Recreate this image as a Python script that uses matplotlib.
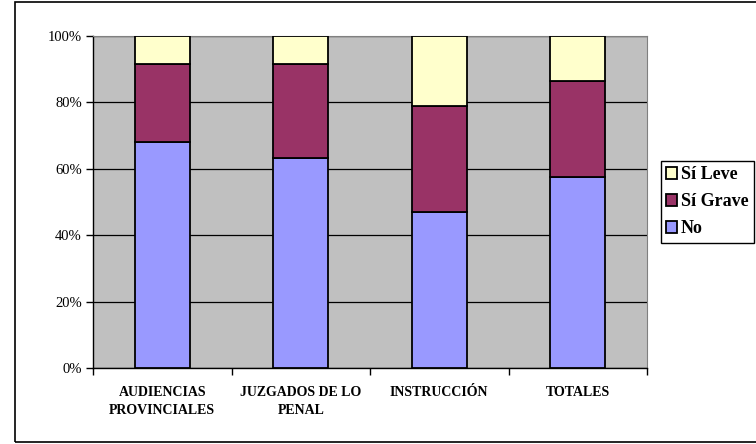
import matplotlib.pyplot as plt
import numpy as np
from matplotlib.patches import Rectangle
from matplotlib.ticker import FuncFormatter

plt.rcParams['font.family'] = ['Liberation Serif', 'DejaVu Serif']

categories = ["AUDIENCIAS\nPROVINCIALES", "JUZGADOS DE LO\nPENAL", "INSTRUCCIÓN", "TOTALES"]
no = [68.2, 63.3, 47.1, 57.6]
si_grave = [23.3, 28.2, 31.9, 28.8]
si_leve = [8.5, 8.5, 21.0, 13.6]

fig = plt.figure(figsize=(7.56, 4.44), dpi=100)
fig.patches.append(Rectangle((15 / 756, 2 / 444), 1.0, 440 / 444, transform=fig.transFigure,
                             fill=False, edgecolor='black', linewidth=1.2))

ax = fig.add_axes([93 / 756, 76 / 444, 554 / 756, 332 / 444])
ax.set_facecolor('#C0C0C0')

x = np.arange(len(categories))
w = 0.395
kw = dict(width=w, edgecolor='black', linewidth=1.3, zorder=3)
b1 = ax.bar(x, no, color='#9999FF', label='No', **kw)
b2 = ax.bar(x, si_grave, bottom=no, color='#993366', label='Sí Grave', **kw)
b3 = ax.bar(x, si_leve, bottom=np.add(no, si_grave), color='#FFFFCC', label='Sí Leve', **kw)

ax.set_xlim(-0.5, len(categories) - 0.5)
ax.set_ylim(0, 100)
ax.set_yticks(np.arange(0, 101, 20))
ax.yaxis.set_major_formatter(FuncFormatter(lambda v, p: f"{int(v)}%"))
ax.grid(axis='y', color='black', linewidth=0.9, zorder=1)
ax.set_axisbelow(True)

ax.set_xticks(x)
ax.set_xticklabels(categories, fontweight='bold', fontsize=10, linespacing=1.45)
ax.set_xticks(np.arange(-0.5, len(categories)), minor=True)
ax.tick_params(axis='x', which='major', length=0, pad=13)
ax.tick_params(axis='x', which='minor', length=5, width=1, direction='out')
ax.tick_params(axis='y', length=5, width=1, direction='out', labelsize=10.5, pad=3)

for side in ['top', 'right']:
    ax.spines[side].set_color('#808080')
for side in ['left', 'bottom']:
    ax.spines[side].set_color('black')
    ax.spines[side].set_linewidth(1)

leg = fig.legend(handles=[b3, b2, b1], loc='upper left', bbox_to_anchor=(661 / 756, 1 - 161 / 444),
                 frameon=True, fancybox=False, edgecolor='black', framealpha=1,
                 prop={'weight': 'bold', 'size': 13}, handlelength=0.6, handleheight=0.6,
                 handletextpad=0.2, labelspacing=0.55, borderpad=0.3, borderaxespad=0)
leg.get_frame().set_linewidth(1)

fig.savefig('out.png', dpi=100)
